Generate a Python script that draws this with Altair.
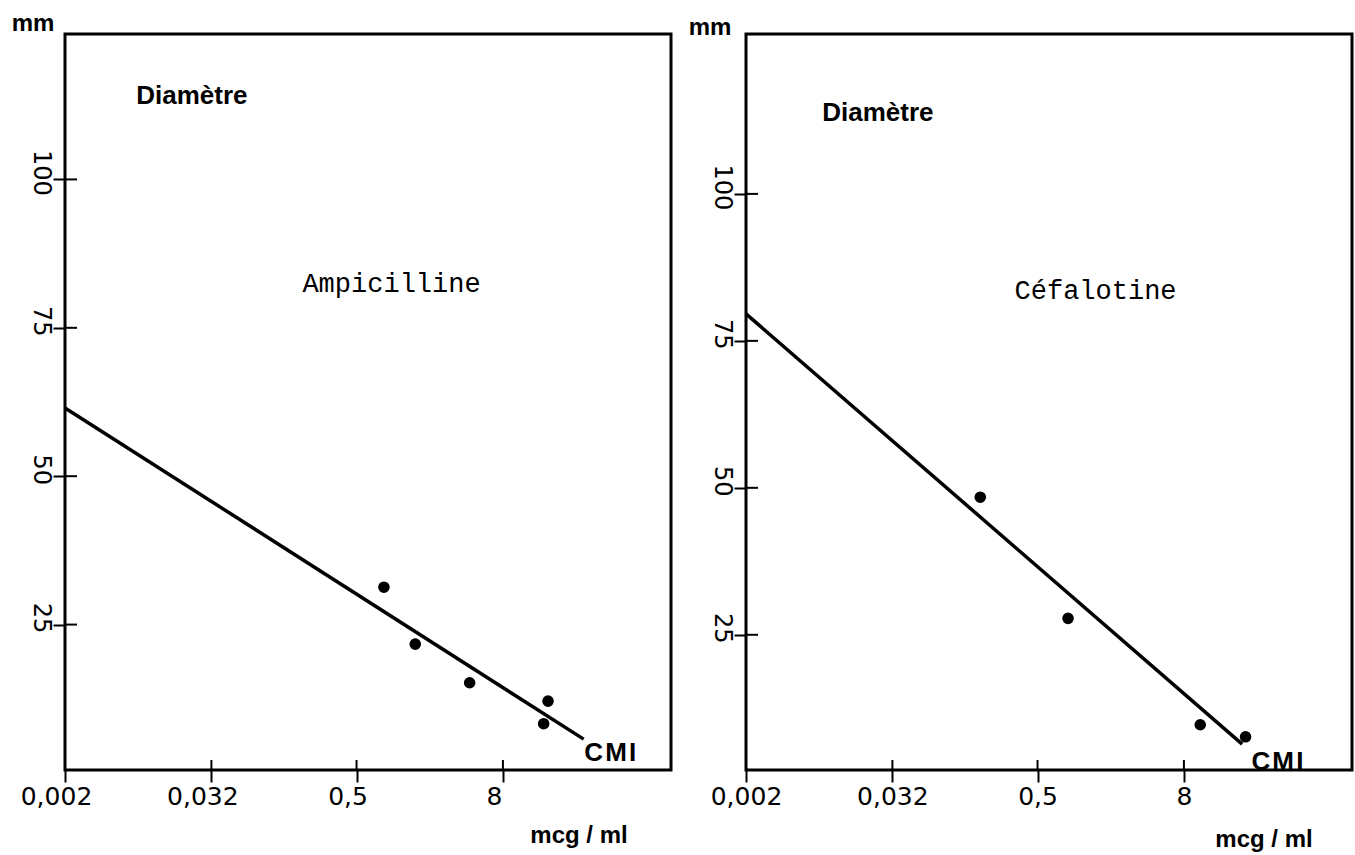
import altair as alt
import pandas as pd

# ---- data ----
amp_conc = [0.84, 1.52, 4.26, 18.8, 17.3]
amp_diam = [31.3, 21.7, 15.2, 12.1, 8.3]
amp_line_conc = [0.002, 36.9]
amp_line_diam = [61.5, 5.7]

cef_conc = [0.169, 0.891, 10.9, 25.7]
cef_diam = [48.4, 27.8, 9.7, 7.65]
cef_line_conc = [0.002, 24.1]
cef_line_diam = [79.6, 6.4]

x_ticks = [0.002, 0.032, 0.5, 8]
x_tick_labels = ["0,002", "0,032", "0,5", "8"]
y_ticks = [25, 50, 75, 100]

W, H = 606, 736
X_DOMAIN = [0.002, 193]

BOLD = "Liberation Sans, Arial, sans-serif"
SANS = "DejaVu Sans, sans-serif"
MONO = "Liberation Mono, Courier New, DejaVu Sans Mono, monospace"

label_expr = " : ".join(
    f"datum.value == {v} ? '{t}'" for v, t in zip(x_ticks, x_tick_labels)
) + " : ''"


def panel(conc, diam, lconc, ldiam, name, name_xy, diam_xy, cmi_xy, ydomain,
          mm_xy, unit_xy, xlabel_off):
    xs = alt.Scale(type="log", base=2, domain=X_DOMAIN, nice=False)
    ys = alt.Scale(domain=ydomain, nice=False, zero=False)
    xaxis = alt.Axis(values=x_ticks, labelExpr=label_expr, domain=False, grid=False,
                     ticks=True, tickSize=12, tickWidth=2, tickColor="black",
                     labelFont=SANS, labelFontSize=25, labelColor="black",
                     labelPadding=2, labelOffset=xlabel_off, title=None,
                     labelFlush=False, labelOverlap=False)
    yaxis = alt.Axis(values=y_ticks, domain=False, grid=False, ticks=True,
                     tickSize=12, tickWidth=2, tickColor="black",
                     labelFont=SANS, labelFontSize=24, labelColor="black",
                     labelAngle=90, labelAlign="center", labelBaseline="top",
                     labelPadding=1, labelOffset=-7, title=None, labelFlush=False)

    def X(f):
        return alt.X(f, type="quantitative", scale=xs, axis=xaxis)

    def Y(f):
        return alt.Y(f, type="quantitative", scale=ys, axis=yaxis)

    pts = pd.DataFrame({"c": conc, "d": diam})
    line = pd.DataFrame({"c": lconc, "d": ldiam})

    l_line = alt.Chart(line).mark_line(color="black", strokeWidth=3.5).encode(
        x=X("c"), y=Y("d"))
    l_pts = alt.Chart(pts).mark_circle(color="black", opacity=1, size=135).encode(
        x=X("c"), y=Y("d"))

    xt = pd.DataFrame({"t": x_ticks[1:]})
    yt = pd.DataFrame({"t": y_ticks})
    l_xt = alt.Chart(xt).mark_rule(color="black", strokeWidth=2).encode(
        x=X("t"), y=alt.value(H), y2=alt.value(H - 10))
    l_yt = alt.Chart(yt).mark_rule(color="black", strokeWidth=2).encode(
        y=Y("t"), x=alt.value(0), x2=alt.value(12))

    ann = pd.DataFrame({
        "c": [name_xy[0], diam_xy[0], cmi_xy[0]],
        "d": [name_xy[1], diam_xy[1], cmi_xy[1]],
        "txt": [name, "Diamètre", "C\u200aM\u200aI"],
        "kind": ["name", "diam", "cmi"],
    })
    l_name = alt.Chart(ann[ann.kind == "name"]).mark_text(
        font=MONO, fontSize=27, color="black").encode(x=X("c"), y=Y("d"), text="txt:N")
    l_diam = alt.Chart(ann[ann.kind == "diam"]).mark_text(
        font=BOLD, fontWeight="bold", fontSize=26, color="black").encode(
        x=X("c"), y=Y("d"), text="txt:N")
    l_cmi = alt.Chart(ann[ann.kind == "cmi"]).mark_text(
        font=BOLD, fontWeight="bold", fontSize=26, color="black").encode(
        x=X("c"), y=Y("d"), text="txt:N")

    mm = alt.Chart(pd.DataFrame({"txt": ["mm"]})).mark_text(
        font=BOLD, fontWeight="bold", fontSize=24, color="black").encode(
        x=alt.value(mm_xy[0]), y=alt.value(mm_xy[1]), text="txt:N")
    unit = alt.Chart(pd.DataFrame({"txt": ["mcg / ml"]})).mark_text(
        font=BOLD, fontWeight="bold", fontSize=24, color="black").encode(
        x=alt.value(unit_xy[0]), y=alt.value(unit_xy[1]), text="txt:N")

    return alt.layer(l_line, l_pts, l_xt, l_yt, l_name, l_diam, l_cmi, mm, unit).properties(
        width=W, height=H)


left = panel(amp_conc, amp_diam, amp_line_conc, amp_line_diam, "Ampicilline",
             (0.97, 82.3), (0.0221, 114.1), (61, 3.4), [0.5, 124.5],
             (-32, -10), (514, H + 66), -9)
right = panel(cef_conc, cef_diam, cef_line_conc, cef_line_diam, "Céfalotine",
              (1.5, 83.5), (0.0243, 113.8), (47, 3.4), [2.0, 127.2],
              (-36, -6), (518, H + 70), 0)

chart = alt.hconcat(left, right, spacing=14).properties(
    padding={"left": 10, "top": 10, "right": 0, "bottom": 0},
    background="white",
).configure_view(stroke="black", strokeWidth=3)

chart.save("out.html", embed_options={"renderer": "svg", "actions": False})
